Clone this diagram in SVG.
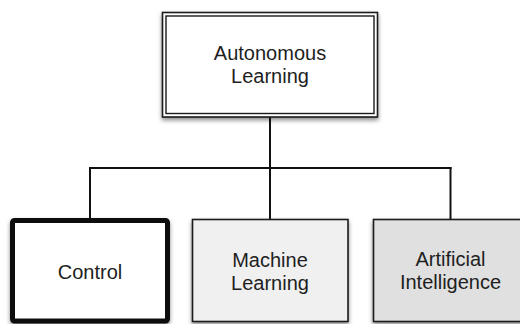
<svg xmlns="http://www.w3.org/2000/svg" width="520" height="324" viewBox="0 0 520 324">
  <defs>
    <filter id="shadow" x="-10%" y="-10%" width="120%" height="130%">
      <feDropShadow dx="0" dy="2.5" stdDeviation="2" flood-color="#000" flood-opacity="0.45"/>
    </filter>
    <style>
      .label { font-family: "Liberation Sans", Arial, Helvetica, sans-serif; font-size: 20px; fill: #1e1e1e; text-anchor: middle; }
      .edge { fill: none; stroke: #111; stroke-width: 2; stroke-linecap: square; }
      .box { stroke: #1a1a1a; stroke-width: 1.6; filter: url(#shadow); }
    </style>
  </defs>
  <rect width="520" height="324" fill="#fff"/>

  <!-- connectors -->
  <g id="connectors">
    <path class="edge" d="M270 117 V218"/>
    <path class="edge" d="M90 168 H450.5"/>
    <path class="edge" d="M90 168 V218"/>
    <path class="edge" d="M450.5 168 V219"/>
  </g>

  <!-- root node -->
  <g id="autonomous-learning">
    <rect x="162.5" y="12.5" width="215" height="104.5" fill="#fff" stroke="#1a1a1a" stroke-width="1.6" filter="url(#shadow)"/>
    <rect x="166" y="16" width="208" height="97.5" fill="none" stroke="#1a1a1a" stroke-width="1.4"/>
    <text class="label" x="270" y="60">Autonomous</text>
    <text class="label" x="270" y="82.5">Learning</text>
  </g>

  <!-- child nodes -->
  <g id="control">
    <rect x="12.5" y="220.5" width="155" height="100.5" rx="2" fill="#fff" stroke="#111" stroke-width="5" filter="url(#shadow)"/>
    <text class="label" x="90" y="279.3">Control</text>
  </g>

  <g id="machine-learning">
    <rect class="box" x="192.5" y="219.5" width="155.5" height="102" fill="#f0f0f0"/>
    <text class="label" x="270" y="266.7">Machine</text>
    <text class="label" x="270" y="289.7">Learning</text>
  </g>

  <g id="artificial-intelligence">
    <rect class="box" x="373.5" y="219.5" width="155" height="102" fill="#e0e0e0"/>
    <text class="label" x="450.5" y="265.7">Artificial</text>
    <text class="label" x="450.5" y="289.3">Intelligence</text>
  </g>
</svg>
